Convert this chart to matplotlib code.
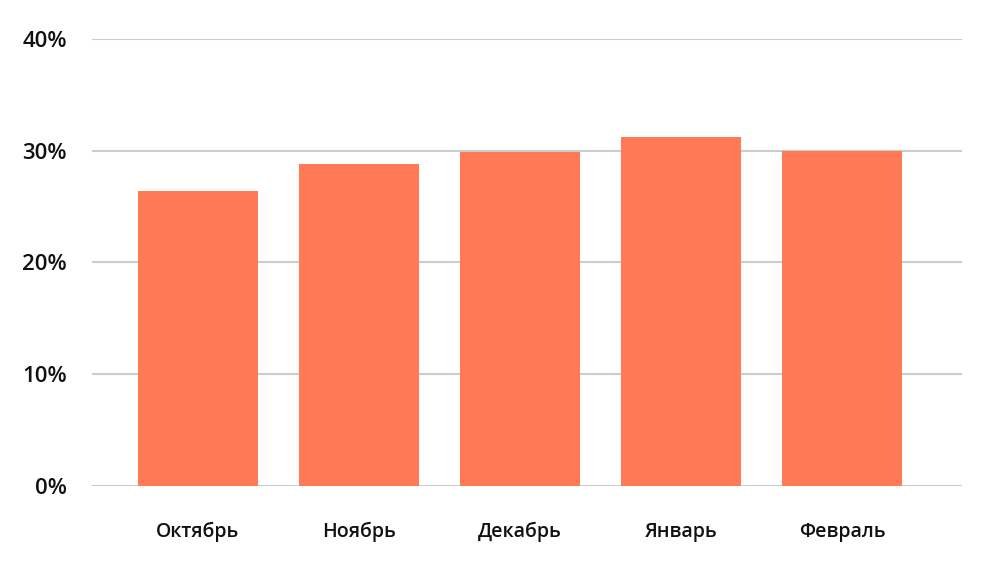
import matplotlib
matplotlib.use("Agg")
import matplotlib.pyplot as plt

months = ["Октябрь", "Ноябрь", "Декабрь", "Январь", "Февраль"]
values = [26.4, 28.8, 29.9, 31.2, 30.0]
yticks = [0, 10, 20, 30, 40]

plt.rcParams['font.family'] = ['Open Sans', 'DejaVu Sans']

fig = plt.figure(figsize=(10, 5.69), dpi=100)
ax = fig.add_axes([0.092, 0.1459, 0.870, 0.7856])

ax.bar(range(len(months)), values, width=0.745, color="#FF7A55", zorder=3)
ax.set_xlim(-0.658, 4.745)
ax.set_ylim(0, 40)
ax.set_yticks(yticks)
ax.set_yticklabels([f"{v}%" for v in yticks], fontsize=16, fontweight="semibold", color="#111111")
ax.set_xticks(range(len(months)))
ax.set_xticklabels(months, fontsize=14, fontweight="semibold", color="#111111")
ax.tick_params(length=0)
ax.tick_params(axis="y", pad=18)
ax.tick_params(axis="x", pad=26)
ax.grid(axis="y", color="#cccccc", linewidth=1.5, zorder=0)
for s in ax.spines.values():
    s.set_visible(False)

fig.savefig("out.png", dpi=100)
